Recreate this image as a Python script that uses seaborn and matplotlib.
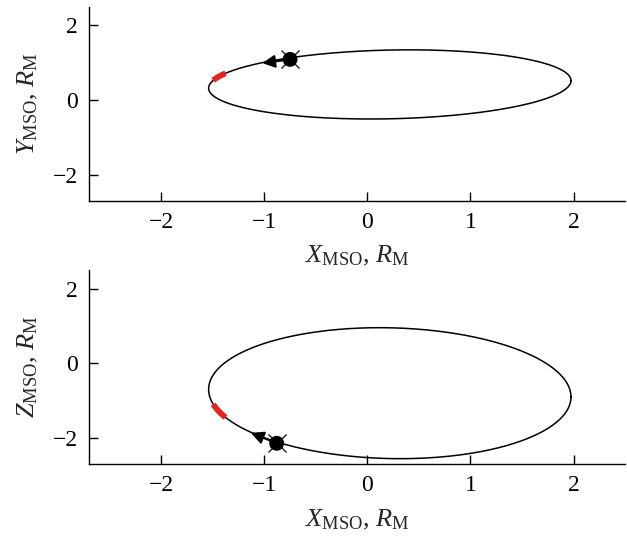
import numpy as np
import pandas as pd
import matplotlib
matplotlib.use("Agg")
import matplotlib.pyplot as plt
import seaborn as sns

# Orbit geometry (MSO frame, units of Mercury radii):
# X = cx + rx*cos(t);  Y = cy + ky*cos(t) + my*sin(t);  Z = cz + kz*cos(t) + mz*sin(t)
orbit_center = {"x": 0.2175, "y": 0.42, "z": -0.80}
orbit_x_amp = 1.7575
orbit_y_cos, orbit_y_sin = 0.10, 0.92
orbit_z_cos, orbit_z_sin = -0.10, -1.75

# Orbit phase range of the highlighted (red) interval, degrees
red_phase = [155.0, 167.0]

# Spacecraft position and direction arrow tip in each projection
sc_xy = [-0.75, 1.09]
arrow_tip_xy = [-1.02, 0.99]
sc_xz = [-0.88, -2.14]
arrow_tip_xz = [-1.13, -1.86]

ticks = [-2, -1, 0, 1, 2]
xlim = (-2.7, 2.5)
ylim = (-2.7, 2.5)


def orbit_frame(t_deg):
    t = np.radians(t_deg)
    return pd.DataFrame({
        "X": orbit_center["x"] + orbit_x_amp * np.cos(t),
        "Y": orbit_center["y"] + orbit_y_cos * np.cos(t) + orbit_y_sin * np.sin(t),
        "Z": orbit_center["z"] + orbit_z_cos * np.cos(t) + orbit_z_sin * np.sin(t),
    })


orbit = orbit_frame(np.linspace(0, 360, 721))
red = orbit_frame(np.linspace(red_phase[0], red_phase[1], 30))

sns.set_theme(style="ticks")
plt.rcParams["font.family"] = ["Liberation Serif", "DejaVu Serif"]
plt.rcParams["mathtext.fontset"] = "custom"
plt.rcParams["mathtext.rm"] = "Liberation Serif"
plt.rcParams["mathtext.it"] = "Liberation Serif:italic"
plt.rcParams["axes.unicode_minus"] = True

fig = plt.figure(figsize=(6.27, 5.36), dpi=100)
ax1 = fig.add_axes([0.142, 0.625, 0.855, 0.3625])
ax2 = fig.add_axes([0.142, 0.134, 0.855, 0.3625])

panels = [
    (ax1, "Y", sc_xy, arrow_tip_xy, r"$Y_{\mathrm{MSO}}$, $R_{\mathrm{M}}$"),
    (ax2, "Z", sc_xz, arrow_tip_xz, r"$Z_{\mathrm{MSO}}$, $R_{\mathrm{M}}$"),
]

for ax, col, sc, tip, ylab in panels:
    sns.lineplot(data=orbit, x="X", y=col, sort=False, estimator=None,
                 color="black", lw=1.1, ax=ax)
    sns.lineplot(data=red, x="X", y=col, sort=False, estimator=None,
                 color="#e52420", lw=4.2, solid_capstyle="butt", ax=ax)
    ax.annotate("", xy=tip, xytext=sc,
                arrowprops=dict(arrowstyle="-|>", color="black", lw=1.5,
                                mutation_scale=19, shrinkA=0, shrinkB=0))
    ax.scatter([sc[0]], [sc[1]], s=170, marker="x", color="#222222",
               linewidths=1.0, zorder=4)
    ax.scatter([sc[0]], [sc[1]], s=115, marker="o", color="black",
               edgecolors="none", zorder=5)

    ax.set_xlim(*xlim)
    ax.set_ylim(*ylim)
    ax.set_xticks(ticks)
    ax.set_yticks([-2, 0, 2])
    ax.tick_params(direction="in", length=6.5, width=1.0, labelsize=17,
                   pad=8, color="black", labelcolor="black")
    for side in ("top", "right"):
        ax.spines[side].set_visible(False)
    for side in ("left", "bottom"):
        ax.spines[side].set_linewidth(1.0)
        ax.spines[side].set_color("black")
    ax.set_xlabel(r"$X_{\mathrm{MSO}}$, $R_{\mathrm{M}}$", fontsize=19, labelpad=8)
    ax.set_ylabel(ylab, fontsize=19, labelpad=9)
    ax.set_facecolor("white")

fig.savefig("out.png", dpi=100, facecolor="white")
